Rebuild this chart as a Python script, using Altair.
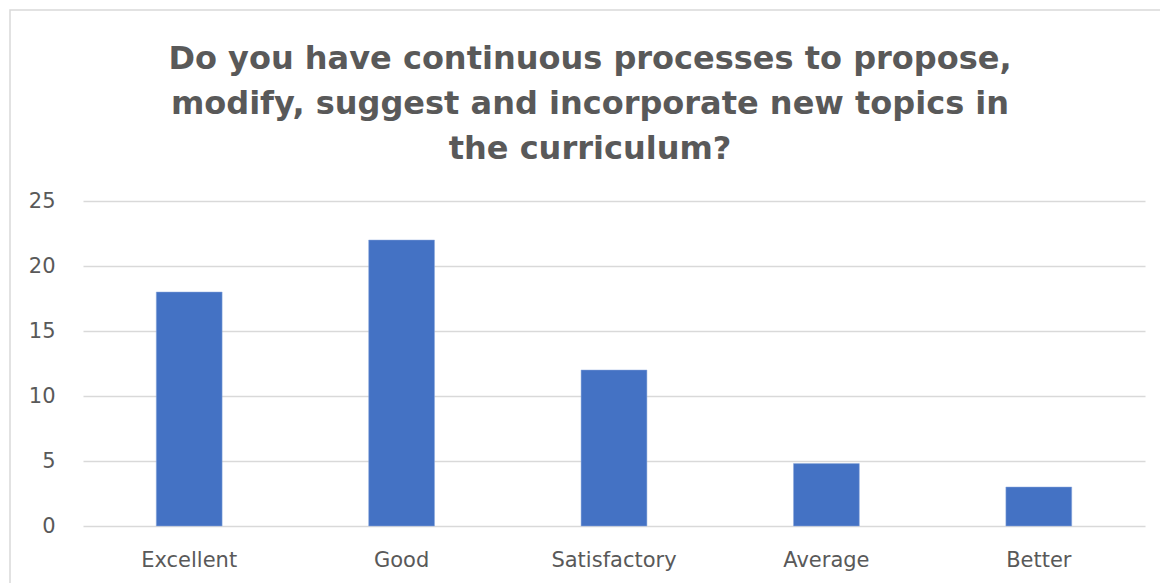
import altair as alt
import pandas as pd

categories = ["Excellent", "Good", "Satisfactory", "Average", "Better"]
values = [18, 22, 12, 4.8, 3]
title_lines = ["Do you have continuous processes to propose,",
               "modify, suggest and incorporate new topics in",
               "the curriculum?"]

df = pd.DataFrame({"category": categories, "value": values})

W, H = 1062, 325

bars = alt.Chart(df).mark_bar(color="#4472C4", stroke="#8FAADC", strokeWidth=0.5).encode(
    x=alt.X("category:N", sort=categories, title=None,
            scale=alt.Scale(paddingInner=0.69, paddingOuter=0.345),
            axis=alt.Axis(labelAngle=0, labelFontSize=21, labelColor="#595959",
                          labelFont="DejaVu Sans", labelPadding=23, ticks=False,
                          domain=False, grid=False)),
    y=alt.Y("value:Q", title=None,
            scale=alt.Scale(domain=[0, 25], nice=False),
            axis=alt.Axis(values=[0, 5, 10, 15, 20, 25], labelFontSize=21,
                          labelColor="#595959", labelFont="DejaVu Sans",
                          labelPadding=28, ticks=False, domain=False,
                          grid=True, gridColor="#d9d9d9", gridWidth=1.5)),
)

border = alt.Chart(pd.DataFrame({"a": [0]})).mark_rect(
    fill=None, stroke="#d9d9d9", strokeWidth=1.5, clip=False
).encode(
    x=alt.value(-73), x2=alt.value(1110), y=alt.value(-191), y2=alt.value(420)
)

chart = alt.layer(border, bars).properties(
    width=W, height=H,
    title=alt.TitleParams(title_lines, font="DejaVu Sans", fontSize=32, fontWeight="bold",
                          color="#595959", anchor="middle", dx=-24, offset=-182,
                          baseline="alphabetic", lineHeight=45),
    padding={"left": 75, "top": 193, "right": 15, "bottom": 70},
    autosize=alt.AutoSizeParams(type="none"),
    background="white",
).configure_view(stroke=None)

chart.save("out.html", embed_options={"renderer": "svg", "actions": False})
